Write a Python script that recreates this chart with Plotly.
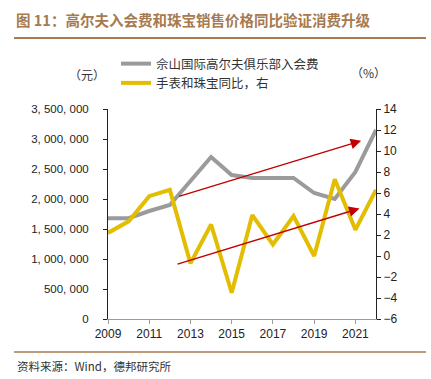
import plotly.graph_objects as go

years = list(range(2009, 2023))
golf_fee = [1680000, 1680000, 1800000, 1900000, 2300000, 2700000, 2400000,
            2350000, 2350000, 2350000, 2100000, 2000000, 2450000, 3150000]
jewelry_yoy = [2.2, 3.3, 5.7, 6.3, -0.7, 3.0, -3.5, 3.9, 1.1, 3.8, 0.0, 7.3, 2.5, 6.3]

name_golf = "佘山国际高尔夫俱乐部入会费"
name_jewelry = "手表和珠宝同比，右"
left_ticks = [0, 500000, 1000000, 1500000, 2000000, 2500000, 3000000, 3500000]
left_tick_text = ["0", "500, 000", "1, 000, 000", "1, 500, 000", "2, 000, 000",
                  "2, 500, 000", "3, 000, 000", "3, 500, 000"]
right_ticks = [-6, -4, -2, 0, 2, 4, 6, 8, 10, 12, 14]
x_ticks = [2009, 2011, 2013, 2015, 2017, 2019, 2021]

# red trend arrows (data coords: year, left-axis value)
arrow_upper = [(2012.37, 2036000), (2021.28, 2970000)]
arrow_lower = [(2012.3, 908000), (2021.2, 1842000)]

GRAY = "#9B9B9B"
YELLOW = "#E3BD00"
RED = "#C00000"
BROWN = "#A77A4F"
FONT = "Liberation Sans, Arial, sans-serif"
CJK = "Noto Sans CJK SC"

W, H = 431, 379
l, r, t, b = 108, 55, 109, 60
pw, ph = W - l - r, H - t - b
def px(x): return (x - l) / pw
def py(y): return (H - b - y) / ph

fig = go.Figure()
fig.add_trace(go.Scatter(x=years, y=golf_fee, name=name_golf, mode="lines",
                         line=dict(color=GRAY, width=4), yaxis="y"))
fig.add_trace(go.Scatter(x=years, y=jewelry_yoy, name=name_jewelry, mode="lines",
                         line=dict(color=YELLOW, width=4), yaxis="y2"))

annotations = []
for (x0, y0), (x1, y1) in [arrow_upper, arrow_lower]:
    annotations.append(dict(x=x1, y=y1, ax=x0, ay=y0, xref="x", yref="y",
                            axref="x", ayref="y", showarrow=True, arrowhead=2,
                            arrowsize=1.5, arrowwidth=1.4, arrowcolor=RED, text=""))

annotations += [
    dict(text="<b>图 11：高尔夫入会费和珠宝销售价格同比验证消费升级</b>", xref="paper", yref="paper",
         x=px(14), y=py(20), xanchor="left", yanchor="middle", showarrow=False,
         font=dict(family=CJK, size=14.5, color=BROWN)),
    dict(text="（元）", x=px(87), y=py(75), xref="paper", yref="paper", xanchor="center",
         yanchor="middle", showarrow=False, font=dict(family=CJK, size=12, color="#333333")),
    dict(text="（%）", x=px(368), y=py(72), xref="paper", yref="paper", xanchor="center",
         yanchor="middle", showarrow=False, font=dict(family=CJK, size=12, color="#333333")),
    dict(text="资料来源：Wind，德邦研究所", x=px(15), y=py(366), xref="paper", yref="paper",
         xanchor="left", yanchor="middle", showarrow=False,
         font=dict(family=CJK, size=11.5, color="#333333")),
]

tickfont = dict(family=FONT, size=12, color="#222222")
fig.update_layout(
    width=W, height=H,
    margin=dict(l=l, r=r, t=t, b=b),
    paper_bgcolor="white", plot_bgcolor="white",
    showlegend=True,
    legend=dict(x=px(116), y=py(49), xanchor="left", yanchor="top",
                bgcolor="rgba(0,0,0,0)", itemwidth=30, tracegroupgap=2,
                font=dict(family=CJK, size=12.5, color="#333333")),
    xaxis=dict(range=[2009, 2022], tickvals=x_ticks, showgrid=False, zeroline=False,
               showline=True, linecolor=GRAY, linewidth=1, ticks="outside",
               ticklen=4, tickcolor=GRAY, tickfont=tickfont),
    yaxis=dict(range=[0, 3500000], tickvals=left_ticks, ticktext=left_tick_text,
               showgrid=False, zeroline=False, showline=True, linecolor="#222222",
               linewidth=1, ticks="outside", ticklen=4, tickcolor="#222222",
               ticklabelstandoff=12, tickfont=dict(family=FONT, size=11.5, color="#222222")),
    yaxis2=dict(range=[-6, 14], tickvals=right_ticks, overlaying="y", side="right",
                showgrid=False, zeroline=False, showline=True, linecolor="#222222",
                linewidth=1, ticks="outside", ticklen=4, tickcolor="#222222",
                tickfont=tickfont),
    annotations=annotations,
    shapes=[
        dict(type="line", xref="paper", yref="paper", x0=px(14), x1=px(426),
             y0=py(38), y1=py(38), line=dict(color=BROWN, width=2)),
        dict(type="line", xref="paper", yref="paper", x0=px(14), x1=px(426),
             y0=py(352), y1=py(352), line=dict(color=BROWN, width=1.5)),
    ],
)

fig.write_html("out.html", config={"displayModeBar": False},
               post_script="document.body.style.margin='0px';"
                           "document.documentElement.style.overflow='hidden';")
